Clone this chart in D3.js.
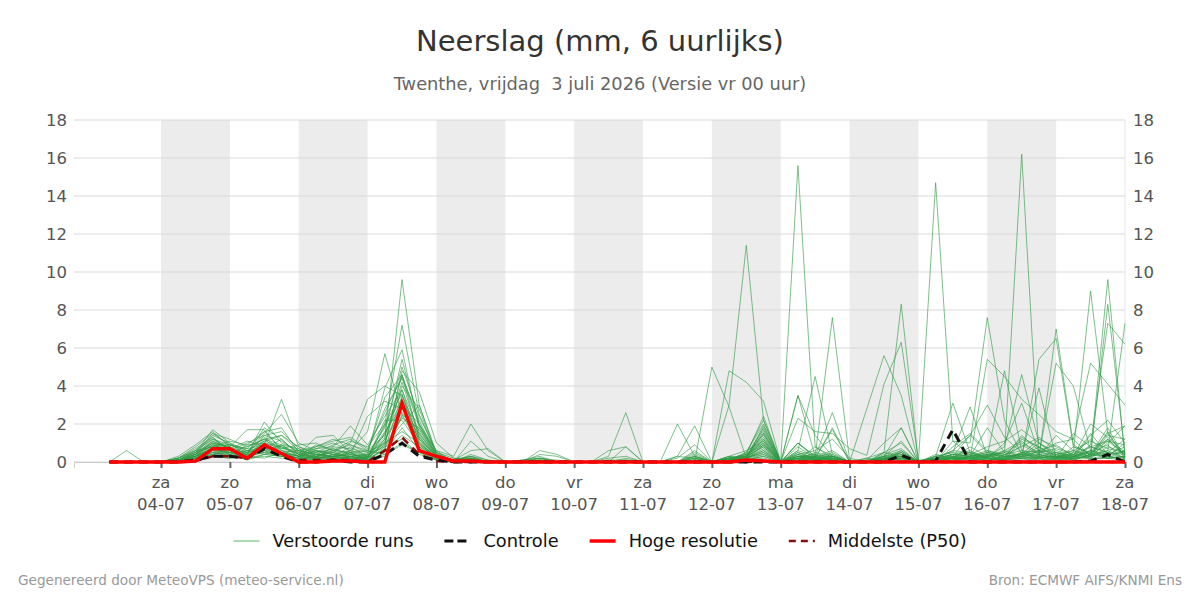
<!DOCTYPE html>
<html>
<head>
<meta charset="utf-8">
<script src="https://cdn.jsdelivr.net/npm/d3@7"></script>
<style>
  body { margin: 0; background: #fff; }
  svg { font-family: "DejaVu Sans", sans-serif; }
</style>
</head>
<body>
<div id="chart"></div>
<script>
// time steps: 6-hourly from 03-07 06:00 up to 18-07 00:00 (60 steps)
const START = new Date(2026, 6, 3, 6);
const DAY_LABELS = ["za", "zo", "ma", "di", "wo", "do", "vr", "za", "zo", "ma", "di", "wo", "do", "vr", "za"];
const DATE_LABELS = ["04-07", "05-07", "06-07", "07-07", "08-07", "09-07", "10-07", "11-07", "12-07", "13-07", "14-07", "15-07", "16-07", "17-07", "18-07"];
const Y_TICKS = [0, 2, 4, 6, 8, 10, 12, 14, 16, 18];

// layout per row: 3 steps of 03-07, then 4 steps per day (04-07 .. 17-07), then 18-07 00h
const MEMBERS = [
  [0,0.6,0, 0,0.1,0.5,1.7, 1.0,0.6,0.8,0.4, 0.2,0.3,0.1,0.2, 0.1,1.2,9.6,3.0, 0.4,0.1,0.3,0, 0,0,0.2,0, 0,0,0,0, 0,0,0,0.3, 0,0.1,0.3,1.2, 0,0.2,0.1,0.3, 0,0,0.1,0.2, 0,0.1,0.3,0.5, 0.2,0.1,0.3,1.0, 0.3,0.1,0.4,1.5, 1.9],
  [0,0,0, 0,0.2,0.8,1.5, 0.9,0.5,1.3,0.6, 0.3,0.5,0.7,0.4, 0.2,2.0,7.2,2.5, 0.5,0,0.1,0, 0,0,0,0, 0,0,0,0, 0,0,0.2,0.9, 0,0.3,0.1,0.9, 0,15.6,0.8,0.2, 0,0,0.3,0.4, 0,0,0.1,0.2, 0,0.4,0.2,0.6, 0.1,0.3,0.2,1.2, 0.4],
  [0,0,0, 0,0.1,0.4,1.2, 0.7,0.4,2.1,1.0, 0.6,0.2,0.4,0.3, 0.4,3.9,5.9,1.8, 0.2,0,1.1,0.3, 0,0.1,0.3,0, 0,0,0,0.8, 0,0,0.3,0.2, 0,3.0,11.4,2.2, 0,0.3,0.2,0.1, 0,0.2,0.5,0.3, 0,0.2,0.1,0.3, 0.5,0.2,1.4,0.6, 0.2,0.3,0.6,0.2, 0.3],
  [0,0,0, 0,0,0.3,1.0, 0.8,1.7,1.7,0.6, 0.3,0.9,0.6,0.2, 0.3,1.5,5.4,2.0, 0.3,0.1,0.2,0, 0,0,0.1,0, 0,0,0,0, 0,0,0,0.2, 0,0.2,0.3,1.5, 0,0.2,0.3,0.3, 0,0,0.2,0.1, 0,14.7,1.1,0.4, 0.2,0.1,0.5,0.2, 0.1,0.8,0.4,0.2, 0.6],
  [0,0,0, 0,0.1,0.6,1.4, 1.0,0.3,0.9,3.3, 0.8,0.4,0.3,0.2, 0.1,0.8,4.8,3.7, 1.0,0.2,0.1,0, 0,0,0,0, 0,0,0,0, 0,0,0,0, 0,0.1,0.4,2.4, 0,0.5,0.2,0.3, 0,0.1,0.2,0.3, 0,0.2,0.4,0.3, 0.3,0.5,16.2,0.3, 0.3,0.2,0.5,0.9, 0.1],
  [0,0,0, 0,0,0.2,0.9, 0.6,0.5,1.5,2.5, 1.0,0.6,0.2,0.1, 0.2,1.0,4.6,1.2, 0.1,0,0.2,0, 0,0,0,0, 0,0,0,0, 0,0,0,0, 0,0.2,0.2,0.6, 0,0.2,0.3,7.6, 0.1,0,0.2,0.3, 0,0,0.3,0.2, 0.4,0.1,1.2,0.8, 0.2,0.5,9.0,1.5, 0.3],
  [0,0,0, 0,0.3,0.9,1.6, 0.8,0.2,0.7,0.4, 0.1,0.3,0.5,1.0, 3.3,4.0,3.5,1.5, 0.2,0,0.1,0, 0,0,0,0, 0,0,0,0, 0,0,0,0, 5.0,2.9,0.2,0, 0,0.3,0.1,0.2, 0,0,0.5,8.3, 0,0,0.2,0.4, 0.3,0.2,0.5,0.3, 1.4,0.6,0.4,9.6, 0.2],
  [0,0,0, 0,0.2,0.7,1.3, 0.5,0.6,1.1,0.8, 0.4,1.3,1.4,0.5, 0.6,2.8,4.4,1.9, 0.3,0.1,0,0, 0,0,0,0, 0,0,0,0, 0,0,0,0, 0,4.8,4.2,3.2, 0,1.0,0.3,0.1, 0,0.2,0.1,0.3, 0,0,1.1,1.0, 7.6,2.2,0.4,0.2, 0.3,0.4,1.2,0.3, 0.6],
  [0,0,0, 0,0.1,0.5,0.8, 0.9,0.7,1.6,1.8, 0.5,0.2,0.8,1.9, 0.9,2.4,3.8,1.0, 0.2,0.1,0.6,0.7, 0,0,0.6,0.4, 0,0,0,0.1, 0,0,0,0.1, 0,0.1,0.2,1.8, 0,3.5,1.4,0.3, 0,2.8,5.6,3.5, 0,0.3,0.5,2.9, 0.3,0.2,0.9,0.4, 5.2,4.0,0.6,0.3, 1.0],
  [0,0,0, 0,0,0.4,1.1, 0.7,0.3,1.2,0.9, 0.3,0.7,1.0,0.6, 0.4,1.8,5.0,2.4, 0.5,0,0.2,0, 0,0.1,0.2,0, 0,0,0,0, 0,0,0,0, 0,0.3,0.6,1.1, 0,2.3,1.6,1.5, 0.7,0.35,4.1,6.3, 0.1,0.2,0.4,0.3, 0.6,0.3,0.4,3.9, 0.2,0.5,0.3,8.3, 0.4],
  [0,0,0, 0,0.1,0.3,0.7, 0.5,0.2,0.6,0.5, 0.2,0.4,0.3,0.8, 0.3,1.3,4.2,1.4, 0.1,0,0.1,0, 0,0,0.1,0, 0,0,0,0, 0,0,0,0.4, 0,0.1,0.5,2.0, 0,0.6,4.5,0.4, 0,0.1,0.3,0.2, 0,0.3,3.1,0.5, 0.2,0.3,0.2,5.4, 6.5,0.8,0.5,0.2, 0.3],
  [0,0,0, 0,0.2,0.6,0.8, 0.4,0.9,1.0,0.7, 0.6,0.8,1.2,0.9, 0.5,1.0,4.0,2.8, 0.3,0,0.4,0.1, 0,0.1,0.2,0, 0,0,0,0, 0,0,0,0, 0,0.2,0.2,0.9, 0,3.5,0.3,2.6, 0,0,0.3,1.8, 0,0.1,0.2,0.2, 5.4,4.5,3.3,2.5, 1.6,1.2,5.2,4.1, 3.0],
  [0,0,0, 0,0,0.2,0.6, 0.3,0.5,0.7,1.2, 0.4,0.3,0.2,0.6, 1.6,5.7,2.5,0.8, 0.1,0,0.1,0, 0,0,0,0, 0,0,0,0, 0,0,0,0, 0,0,0.3,1.5, 0,1.0,0.2,1.8, 0,0,0.1,0.3, 0,0,0.4,0.3, 1.8,0.5,0.3,0.2, 7.0,0.9,0.4,0.6, 7.3],
  [0,0,0, 0,0.1,0.4,0.9, 0.6,0.3,0.5,0.3, 0.2,0.2,0.1,0.3, 0.1,0.7,3.5,1.1, 0.2,0,0.1,0, 0,0,0,0, 0,0,0.3,2.6, 0,0,0,0.2, 0,0.1,0.2,0.7, 0,0.4,0.1,0.2, 0,0,0.2,0.3, 0,0.2,0.3,0.2, 0.3,4.8,0.6,0.3, 0.5,0.3,2.0,1.3, 0.5],
  [0,0,0, 0,0,0.3,0.5, 0.4,0.6,0.4,0.8, 0.3,0.5,0.2,0.1, 0.2,1.1,3.0,2.0, 0.6,0.3,2.0,0.6, 0,0,0.4,0.3, 0,0,0.6,0.8, 0,0,2.0,0.3, 0,0.1,0.3,1.3, 0,0.3,0.2,0.1, 0,0,0.1,0.2, 0,0.2,0.4,0.6, 0.2,0.6,1.1,0.4, 0.2,1.5,0.8,0.5, 1.2],
  [0,0,0, 0,0.1,0.2,0.4, 0.7,1.1,0.8,0.5, 0.6,0.4,0.7,0.4, 2.4,3.2,2.8,1.2, 0.3,0,0.1,0, 0,0,0,0, 0,0,0,0, 0,0,0.3,1.9, 0,0.1,0.5,2.2, 0,1.0,0.3,0.6, 0,0,0.5,1.0, 0,0.1,0.4,0.3, 0.5,0.3,1.3,0.8, 0.3,0.2,0.9,7.3, 6.2],
  [0,0,0, 0,0,0.3,0.7, 0.5,0.2,0.6,0.9, 0.4,0.6,0.4,0.3, 0.2,2.2,2.2,0.9, 0.2,0,0.1,0, 0,0,0.2,0.1, 0,0,0,0, 0,0,0,0.3, 0,0.2,0.4,1.7, 0,0.3,0.4,0.2, 0,0.1,1.0,1.8, 0,0,0.3,0.2, 0.2,1.0,3.1,0.5, 0.4,0.6,0.3,1.6, 0.1],
  [0,0,0, 0,0,0.1,0.3, 0.2,0.4,0.5,0.4, 0.2,0.1,0.2,0.5, 0.1,0.5,1.8,0.6, 0.1,0,0.1,0, 0,0,0,0, 0,0,0,0.2, 0,0,0,0.1, 0,0.2,0.3,1.1, 0,0.2,0.1,0.1, 0,0,0.2,0.4, 0,0.3,0.2,0.2, 0.4,0.3,0.4,0.3, 0.1,0.2,0.8,0.5, 0.4],
  [0,0,0, 0,0.1,0.5,1.0, 0.8,0.4,1.4,1.6, 0.7,0.3,0.5,0.2, 0.3,1.2,2.6,1.5, 0.3,0.1,0.3,0, 0,0,0,0, 0,0,0.2,0.3, 0,0,0,0.1, 0,0.3,0.2,0.6, 0,0.1,0.8,0.3, 0,0,0.1,0.2, 0,0.1,0.2,0.8, 0.3,0.2,0.4,1.2, 0.8,0.4,0.3,1.0, 1.9],
  [0,0,0, 0,0.2,0.6,1.2, 0.9,0.7,0.9,0.6, 0.5,0.2,0.3,0.4, 0.2,0.9,2.0,3.0, 0.5,0.2,0.2,0, 0,0,0.1,0, 0,0,0.1,0.1, 0,0,0,0.5, 0,0.2,0.3,0.8, 0,0.5,0.2,1.7, 0,0,0.2,0.3, 0,0.4,0.2,0.1, 0.3,0.6,0.3,0.6, 0.5,0.3,0.6,0.4, 0.8],
  [0,0,0, 0,0,0.2,0.5, 0.3,0.2,0.3,0.2, 0.1,0.2,0.3,0.1, 0.2,0.6,1.4,0.8, 0.3,0,0,0, 0,0,0,0, 0,0,0,0, 0,0,0,0, 0,0.1,0.2,0.5, 0,0.2,0.1,0.1, 0,0,0.1,0.2, 0,0,0.1,0.1, 0.1,0.2,0.2,0.2, 0.3,0.1,0.4,0.3, 0.2],
  [0,0,0, 0,0.1,0.4,0.6, 0.5,0.8,1.2,1.4, 0.8,0.5,0.9,1.2, 0.6,0.4,1.0,0.5, 0.2,0,0,0, 0,0,0,0, 0,0,0,0, 0,0,0,0.2, 0,0,0.2,0.4, 0,0.3,0.2,0.2, 0,0,0.3,0.5, 0,0.1,0.2,0.3, 0.2,0.1,0.5,0.4, 0.2,0.3,0.2,0.8, 0.5],
  [0,0,0, 0,0,0.2,0.4, 0.6,0.3,0.2,0.5, 0.3,0.2,0.1,0.2, 0.1,0.3,2.5,1.7, 0.4,0.1,0.1,0, 0,0,0,0, 0,0,0,0, 0,0,0,0, 0,0,0.1,0.3, 0,0.1,0.2,0.2, 0,0,0.2,0.1, 0,0,0.1,0.2, 0.1,0.2,0.3,0.1, 0.2,0.4,0.2,0.2, 0.1],
  [0,0,0, 0,0.1,0.3,0.7, 0.4,0.1,0.4,0.3, 0.1,0.4,0.2,0.3, 0.2,1.5,3.2,0.9, 0.2,0,0,0, 0,0,0,0, 0,0,0,0, 0,0,0,0, 0,0,0.2,1.0, 0,0.2,0.1,0.1, 0,0,0.1,0.2, 0,0,0.2,0.3, 0.2,0.1,0.2,0.3, 0.1,0.2,0.3,0.5, 0.2],
  [0,0,0, 0,0,0.1,0.3, 0.2,0.3,0.8,0.5, 0.3,0.6,0.5,0.3, 0.4,0.8,1.2,0.4, 0.1,0,0.1,0, 0,0,0,0, 0,0,0,0, 0,0,0,0.1, 0,0.2,0.1,0.3, 0,0.1,0.1,0.1, 0,0,0.1,0.1, 0,0.2,0.2,0.1, 0.2,0.1,0.1,0.2, 0.3,0.2,0.2,0.2, 0.3],
  [0,0,0, 0,0.1,0.2,0.8, 1.1,0.9,1.6,0.7, 0.9,1.0,0.6,0.5, 0.3,1.9,3.3,1.3, 0.2,0,0.1,0, 0,0,0,0, 0,0,0.1,0, 0,0,0,0.3, 0,0.2,0.3,1.4, 0,0.6,0.3,0.4, 0,0,0.3,0.6, 0,0.2,0.6,1.4, 0.5,0.4,0.8,1.3, 0.6,0.3,1.5,0.4, 0.6],
  [0,0,0, 0,0.2,0.5,1.3, 0.6,0.4,1.8,1.2, 0.4,0.8,1.1,1.3, 0.7,2.6,4.5,2.2, 0.3,0.1,0.3,0.1, 0,0,0.1,0, 0,0,0,0, 0,0,0,0.1, 0,0.1,0.2,1.9, 0,0.4,0.6,1.2, 0.2,0,0.3,1.1, 0,0.3,0.5,0.4, 0.8,1.1,1.7,1.0, 0.4,0.2,1.4,2.2, 1.0],
  [0,0,0, 0,0,0.3,0.9, 0.9,0.6,0.5,0.9, 0.7,0.3,0.6,0.9, 0.6,1.4,3.8,1.6, 0.3,0,0.1,0, 0,0,0,0, 0,0,0,0.1, 0,0,0,0, 0,0.2,0.4,1.0, 0,0.1,0.5,0.3, 0,0,0.2,0.5, 0,0.1,0.3,1.4, 3.0,1.3,0.5,0.6, 0.9,0.3,0.5,1.1, 0.4],
  [0,0,0, 0,0.1,0.4,1.5, 1.2,0.8,1.2,0.5, 0.3,0.2,0.4,0.6, 0.3,1.6,2.9,1.0, 0.2,0,0,0, 0,0,0,0, 0,0,0,0, 0,0,0,0, 0,0,0.3,0.8, 0,0.8,0.2,0.3, 0,0,0.4,0.7, 0,0.1,0.2,0.2, 0.3,0.8,4.6,1.0, 0.5,0.2,0.6,1.2, 0.3],
  [0,0,0, 0,0,0.2,0.7, 0.6,1.0,1.4,1.1, 0.5,0.7,0.8,0.7, 0.5,3.4,4.6,2.0, 0.4,0.1,0.2,0, 0,0,0.1,0, 0,0,0,0, 0,0,0,0, 0,0,0.2,1.2, 0,0.3,0.3,0.2, 0,0,0.2,0.3, 0,0,0.8,1.5, 0.6,0.4,0.6,0.5, 1.0,1.2,0.3,1.4, 1.2],
  [0,0,0, 0,0.1,0.3,1.1, 0.7,0.5,0.8,0.5, 0.2,0.6,0.4,0.2, 0.2,0.9,2.3,1.8, 0.6,0,0.1,0, 0,0,0,0, 0,0,0,0, 0,0,0,0, 0,0,0.4,0.9, 0,0.2,0.2,0.3, 0,0,0.1,0.5, 0,0.1,0.2,0.3, 0.4,0.3,0.3,0.8, 0.3,0.6,1.1,0.7, 0.5],
  [0,0,0, 0,0,0.1,0.5, 0.4,0.3,0.6,0.3, 0.1,0.3,0.6,1.1, 0.8,2.0,3.6,0.7, 0.2,0,0,0, 0,0,0,0, 0,0,0,0, 0,0,0,0, 0,0,0.2,0.5, 0,0.1,0.1,0.2, 0,0,0.1,0.3, 0,0,0.1,0.1, 0.2,0.1,0.3,0.4, 0.2,0.1,0.4,1.8, 0.2],
  [0,0,0, 0,0.1,0.2,0.6, 0.5,0.4,1.0,0.8, 0.4,0.2,0.3,0.4, 0.3,1.0,1.6,1.0, 0.2,0,0,0, 0,0,0,0, 0,0,0,0, 0,0,0,0, 0,0,0.1,0.4, 0,0.1,0.2,0.1, 0,0,0.2,0.2, 0,0,0.2,0.2, 0.1,0.2,0.4,0.2, 0.4,0.2,0.3,0.6, 0.2],
  [0,0,0, 0,0,0.4,1.0, 0.6,0.3,1.1,1.4, 0.6,0.4,0.3,0.5, 0.1,0.7,2.4,1.3, 0.3,0,0.2,0, 0,0,0,0, 0,0,0,0, 0,0,0,0.6, 0,0.1,0.3,1.6, 0,0.4,0.2,0.5, 0,0,0.1,0.6, 0,0.2,0.6,0.5, 0.3,0.5,1.0,0.5, 0.7,0.4,0.8,1.1, 0.9],
  [0,0,0, 0,0.1,0.2,0.4, 0.3,0.2,0.4,0.3, 0.2,0.1,0.3,0.2, 0.1,0.4,0.9,0.5, 0.1,0,0,0, 0,0,0,0, 0,0,0,0, 0,0,0,0, 0,0,0.1,0.2, 0,0.1,0.1,0.1, 0,0,0.1,0.1, 0,0,0.1,0.2, 0.1,0.1,0.2,0.1, 0.2,0.1,0.1,0.3, 0.1]
];

const CONTROL = [0,0,0, 0,0,0.1,0.3, 0.3,0.2,0.7,0.3, 0,0,0.1,0, 0,0.4,1.0,0.3, 0.1,0,0,0, 0,0,0,0, 0,0,0,0, 0,0,0,0, 0,0,0,0, 0,0,0,0, 0,0,0,0.35, 0,0.05,1.7,0, 0,0,0,0, 0,0,0.05,0.4, 0];
const HIRES = [0,0,0, 0,0,0.05,0.7, 0.7,0.2,0.9,0.45, 0,0,0.05,0.05, 0,0,3.1,0.6, 0.3,0.05,0.05,0, 0,0,0,0, 0,0,0,0, 0,0,0,0, 0,0,0.1,0.05, 0,0,0,0, 0,0,0,0, 0,0,0,0, 0,0,0,0, 0,0,0,0, 0];
const MEDIAN = [0,0,0, 0,0,0.05,0.3, 0.3,0.2,0.8,0.4, 0.1,0.1,0.1,0.1, 0,0.6,1.3,0.4, 0.05,0,0,0, 0,0,0,0, 0,0,0,0, 0,0,0,0, 0,0,0,0.05, 0,0,0,0, 0,0,0,0, 0,0,0,0, 0,0,0,0, 0,0,0,0, 0];

const width = 1200;
const height = 600;
const margin = { top: 120, left: 74, right: 75, bottom: 138 };

const stepTime = i => new Date(START.getTime() + i * 6 * 3600 * 1000);
const dayTime = k => new Date(2026, 6, 4 + k);

const svg = d3.select('#chart').append('svg')
  .attr('width', width)
  .attr('height', height);

const x = d3.scaleTime()
  .domain([new Date(2026, 6, 2, 17, 40), new Date(2026, 6, 18)])
  .range([margin.left, width - margin.right]);

const y = d3.scaleLinear()
  .domain([0, 18])
  .range([height - margin.bottom, margin.top]);

// alternating day shading
const bands = d3.range(0, 14, 2);
svg.append('g').selectAll('rect')
  .data(bands)
  .enter()
  .append('rect')
  .attr('x', k => x(dayTime(k)))
  .attr('width', k => x(dayTime(k + 1)) - x(dayTime(k)))
  .attr('y', y(18))
  .attr('height', y(0) - y(18))
  .attr('fill', '#ececec');

// horizontal grid
svg.append('g').selectAll('line')
  .data(Y_TICKS)
  .enter()
  .append('line')
  .attr('x1', x.range()[0])
  .attr('x2', x.range()[1])
  .attr('y1', d => y(d))
  .attr('y2', d => y(d))
  .attr('stroke', '#d9d9d9')
  .attr('stroke-width', 1);

svg.append('line')
  .attr('x1', x.range()[1]).attr('x2', x.range()[1])
  .attr('y1', y(18)).attr('y2', y(0))
  .attr('stroke', '#e6e6e6');

// y labels, both sides
const yLab = svg.append('g')
  .attr('font-size', 16.5)
  .attr('fill', '#555');
yLab.selectAll('text.l')
  .data(Y_TICKS)
  .enter()
  .append('text')
  .attr('class', 'l')
  .attr('x', x.range()[0] - 7)
  .attr('y', d => y(d))
  .attr('dy', '0.35em')
  .attr('text-anchor', 'end')
  .text(d => d);
yLab.selectAll('text.r')
  .data(Y_TICKS)
  .enter()
  .append('text')
  .attr('class', 'r')
  .attr('x', x.range()[1] + 8)
  .attr('y', d => y(d))
  .attr('dy', '0.35em')
  .attr('text-anchor', 'start')
  .text(d => d);

// x axis
const xAxis = svg.append('g')
  .attr('transform', `translate(0,${y(0)})`)
  .call(d3.axisBottom(x)
    .tickValues(d3.range(15).map(dayTime))
    .tickSize(6)
    .tickFormat(''));
xAxis.select('.domain').attr('stroke', '#ccc');
xAxis.selectAll('.tick line').attr('stroke', '#666').attr('stroke-width', 2);

const xLab = svg.append('g')
  .attr('font-size', 16.5)
  .attr('fill', '#555')
  .attr('text-anchor', 'middle');
xLab.selectAll('text.d')
  .data(DAY_LABELS)
  .enter()
  .append('text')
  .attr('x', (d, k) => x(dayTime(k)))
  .attr('y', 488)
  .text(d => d);
xLab.selectAll('text.t')
  .data(DATE_LABELS)
  .enter()
  .append('text')
  .attr('x', (d, k) => x(dayTime(k)))
  .attr('y', 510)
  .text(d => d);

const line = d3.line()
  .x((d, i) => x(stepTime(i)))
  .y(d => y(d));

svg.append('g').selectAll('path')
  .data(MEMBERS)
  .enter()
  .append('path')
  .attr('d', line)
  .attr('fill', 'none')
  .attr('stroke', '#2e9a44')
  .attr('stroke-opacity', 0.62)
  .attr('stroke-width', 1);

svg.append('path')
  .attr('d', line(MEDIAN))
  .attr('fill', 'none')
  .attr('stroke', '#8b0a0a')
  .attr('stroke-width', 2.5)
  .attr('stroke-dasharray', '8,6');

svg.append('path')
  .attr('d', line(CONTROL))
  .attr('fill', 'none')
  .attr('stroke', '#111')
  .attr('stroke-width', 3)
  .attr('stroke-dasharray', '9,6');

svg.append('path')
  .attr('d', line(HIRES))
  .attr('fill', 'none')
  .attr('stroke', '#ff0000')
  .attr('stroke-width', 3.5);

// titles
svg.append('text')
  .attr('x', width / 2).attr('y', 51)
  .attr('text-anchor', 'middle')
  .attr('font-size', 29)
  .attr('fill', '#333')
  .text('Neerslag (mm, 6 uurlijks)');
svg.append('text')
  .attr('x', width / 2).attr('y', 90)
  .attr('text-anchor', 'middle')
  .attr('font-size', 17.8)
  .attr('fill', '#666')
  .style('white-space', 'pre')
  .text('Twenthe, vrijdag  3 juli 2026 (Versie vr 00 uur)');

// legend
const legendItems = [
  { label: 'Verstoorde runs', color: '#5cb36a', w: 1, dash: null },
  { label: 'Controle', color: '#111', w: 3, dash: '9,4' },
  { label: 'Hoge resolutie', color: '#ff0000', w: 3.5, dash: null },
  { label: 'Middelste (P50)', color: '#8b0a0a', w: 2.5, dash: '7,5' }
];
const legend = svg.append('g');
const items = legend.selectAll('g')
  .data(legendItems)
  .enter()
  .append('g');
items.append('line')
  .attr('x1', 0).attr('x2', 26)
  .attr('y1', 0).attr('y2', 0)
  .attr('stroke', d => d.color)
  .attr('stroke-width', d => d.w)
  .attr('stroke-dasharray', d => d.dash);
items.append('text')
  .attr('x', 39)
  .attr('dy', '0.35em')
  .attr('font-size', 17.8)
  .attr('fill', '#111')
  .text(d => d.label);
let lx = 0;
const offsets = [];
items.each(function() {
  offsets.push(lx);
  lx += 39 + this.querySelector('text').getComputedTextLength() + 31;
});
lx -= 31;
items.attr('transform', (d, i) => `translate(${offsets[i]},0)`);
legend.attr('transform', `translate(${width / 2 - lx / 2},541)`);

// footer
svg.append('text')
  .attr('x', 18).attr('y', 585)
  .attr('font-size', 13.6)
  .attr('fill', '#999')
  .text('Gegenereerd door MeteoVPS (meteo-service.nl)');
svg.append('text')
  .attr('x', 1182).attr('y', 585)
  .attr('text-anchor', 'end')
  .attr('font-size', 13.6)
  .attr('fill', '#999')
  .text('Bron: ECMWF AIFS/KNMI Ens');
</script>
</body>
</html>
